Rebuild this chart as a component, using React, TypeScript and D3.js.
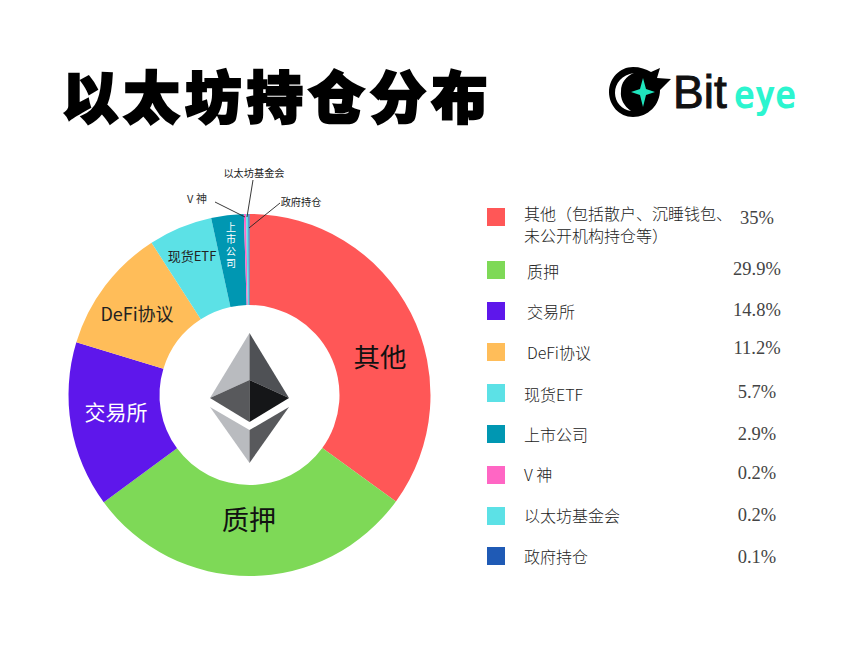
import React from "react";
import * as d3 from "d3";

const categories = ["其他", "质押", "交易所", "DeFi协议", "现货ETF", "上市公司", "V 神", "以太坊基金会", "政府持仓"];
const values = [35, 29.9, 14.8, 11.2, 5.7, 2.9, 0.2, 0.2, 0.1];
const colors = ["#FF5757", "#7ED957", "#5E17EB", "#FFBD59", "#5CE1E6", "#0097B2", "#FF66C4", "#5CE1E6", "#1F5AB5"];

const legendFirstLines = ["其他（包括散户、沉睡钱包、", "质押", "交易所", "DeFi协议", "现货ETF", "上市公司", "V 神", "以太坊基金会", "政府持仓"];
const legendSecondLine = "未公开机构持仓等）";
const swatchY = [208, 261, 302, 343, 384, 425, 466, 507, 547];
const legendTextX = [524, 527, 527, 527, 524, 524, 524, 524, 524];
const legendTextY = [220, 278, 318, 359, 401, 441, 481, 522, 563];
const valueY = [224, 275, 316, 354, 398, 440, 479, 521, 563];

const CX = 249.5, CY = 395, R = 181, r = 90;
const FONT = "'Noto Sans CJK SC', sans-serif";

export default function App() {
  const pie = d3.pie<number>().sort(null)(values);
  const arc = d3.arc<d3.PieArcDatum<number>>().innerRadius(r).outerRadius(R);
  return (
    <svg width={860} height={645} style={{ position: "absolute", left: 0, top: 0, background: "#fff" }}>
      <text x={62} y={118} fontFamily={FONT} fontWeight={900} fontSize={56} letterSpacing={5.6} fill="#000" stroke="#000" strokeWidth={2.5}>以太坊持仓分布</text>

      {/* logo */}
      <g>
        <path d="M633 67 C640 67 646 69 651 72 L660 68 L657 78 L671 79 L660 90 C660 105 648 117 633 117 C619 117 609 105 609 92 C609 78 620 67 633 67Z" fill="#000" />
        <path d="M634 73 C622 75 615 83 615 93 C615 102 622 110 631 111 C624 106 620 99 621 91 C621 83 626 76 634 73Z" fill="#fff" />
        <path d="M643 78 L646 89 L655 92 L646 95 L643 107 L640 95 L631 92 L640 89Z" fill="#1FE5BD" />
        <text x={673} y={108} fontFamily="'Liberation Sans', sans-serif" fontSize={46} fill="#111" stroke="#111" strokeWidth={1}>Bit</text>
        <text x={734} y={108} fontFamily="'DejaVu Sans Mono', monospace" fontWeight={700} fontSize={37} fill="#2CF5CF" textLength={62} lengthAdjust="spacingAndGlyphs">eye</text>
      </g>

      {/* donut */}
      <g transform={`translate(${CX},${CY})`}>
        {pie.map((d, i) => (
          <path key={categories[i]} d={arc(d) as string} fill={colors[i]} />
        ))}
      </g>

      {/* leader lines */}
      <g stroke="#222" strokeWidth={0.9}>
        <line x1={215} y1={202} x2={245} y2={217} />
        <line x1={253} y1={180} x2={247} y2={217} />
        <line x1={280} y1={203} x2={249} y2={228} />
      </g>

      {/* slice labels */}
      <g fontFamily={FONT} textAnchor="middle" dominantBaseline="central">
        <text x={380} y={355} fontSize={26.5} fill="#111">{categories[0]}</text>
        <text x={249} y={518} fontSize={27} fill="#111">{categories[1]}</text>
        <text x={116} y={411} fontSize={21} fill="#fff">{categories[2]}</text>
        <text x={137} y={313} fontSize={18} fill="#222">{categories[3]}</text>
        <text x={192} y={255} fontSize={13} fill="#222">{categories[4]}</text>
        <text x={231} y={246} fontSize={10} fill="#fff" letterSpacing={2} style={{ writingMode: "vertical-rl" }}>{categories[5]}</text>
        <text x={197} y={198} fontSize={11} fill="#333">{categories[6]}</text>
        <text x={254} y={172} fontSize={10.2} fill="#222">{categories[7]}</text>
        <text x={301} y={201} fontSize={10.2} fill="#222">{categories[8]}</text>
      </g>

      {/* ETH logo */}
      <g>
        <path d="M249.5 333 L210 398 L249.5 380Z" fill="#B9BBBF" />
        <path d="M249.5 333 L289 398 L249.5 380Z" fill="#4F5155" />
        <path d="M210 398 L249.5 380 L249.5 422Z" fill="#58595C" />
        <path d="M289 398 L249.5 380 L249.5 422Z" fill="#151618" />
        <path d="M210 407 L249.5 430 L249.5 463Z" fill="#B9BBBF" />
        <path d="M289 407 L249.5 430 L249.5 463Z" fill="#58595C" />
      </g>

      {/* legend */}
      <g fontFamily={FONT} fontSize={16} fontWeight={300} fill="#222">
        {categories.map((c, i) => (
          <g key={c + "-legend"}>
            <rect x={487} y={swatchY[i]} width={18} height={18} fill={colors[i]} />
            <text x={legendTextX[i]} y={legendTextY[i]}>{legendFirstLines[i]}</text>
            <text x={757} y={valueY[i]} textAnchor="middle" fontFamily="'Liberation Serif', serif" fontWeight={400} fontSize={18.5} fill="#444">{values[i]}%</text>
          </g>
        ))}
        <text x={524} y={242}>{legendSecondLine}</text>
      </g>
    </svg>
  );
}
